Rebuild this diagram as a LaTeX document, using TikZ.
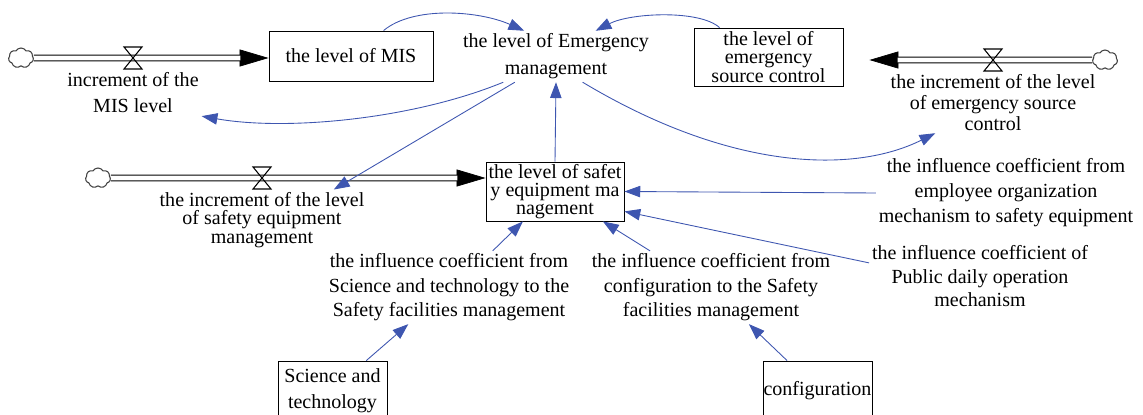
\documentclass[tikz,border=0pt]{standalone}
\usepackage{fontspec}
\setmainfont{Liberation Serif}
\usetikzlibrary{arrows.meta,shapes.symbols}
\definecolor{linkblue}{RGB}{62,86,176}
\tikzstyle{stock}=[draw,rectangle,line width=0.5pt,inner sep=0pt,align=center]
\tikzstyle{aux}=[align=center,inner sep=1.5pt]
\tikzstyle{source}=[draw=black!75,cloud,cloud puffs=7,cloud puff arc=120,aspect=1.2,minimum width=0.5cm,minimum height=0.4cm,inner sep=0pt,line width=0.6pt]
\tikzstyle{pipe}=[draw,double=white,double distance=2.6pt,line width=0.6pt]
\tikzstyle{flowhead}=[draw,line width=0.4pt,-{Triangle[length=16.5pt,width=9.7pt]}]
\tikzstyle{link}=[draw,linkblue,line width=0.5pt,-{Triangle[length=9pt,width=6.5pt]}]
\tikzset{lead/.style={font=\fontsize{11.4}{#1}\selectfont},lead/.default=13.9pt,
  valve/.pic={\draw[line width=0.6pt] (-9,-11) -- (9,-11) -- (-9,11) -- (9,11) -- cycle;}}

\begin{document}
\begin{tikzpicture}[x=0.02cm,y=-0.02cm,lead]
    \useasboundingbox (0,0) rectangle (1143,415);
    % Stocks
    \node[stock,minimum width=2.98cm,minimum height=1.16cm,lead=10.6pt] (esc) at (768.5,57) {the level of\\emergency\\source control};
    \node[stock,minimum width=3.28cm,minimum height=1cm] (mis) at (351,56) {the level of MIS};
    \node[stock,minimum width=2.76cm,minimum height=1.18cm,lead=10.4pt] (sem) at (555,191.5) {the level of safet\\y equipment ma\\nagement};
    \node[stock,minimum width=2.18cm,minimum height=1.2cm,lead=14.8pt] (sbox) at (332.5,391) {Science and\\technology};
    \node[stock,minimum width=2.18cm,minimum height=1.2cm] (cbox) at (817.5,391) {configuration};
    % Auxiliaries and flow rates
    \node[aux,lead=15.4pt] (emg) at (556,56.5) {the level of Emergency\\management};
    \node[aux,lead=14.8pt] (lbl1) at (133,93) {increment of the\\MIS level};
    \node[aux,lead=10.4pt] (lbl2) at (262,220) {the increment of the level\\of safety equipment\\management};
    \node[aux,lead=11.7pt] (lbl3) at (993,102.5) {the increment of the level\\of emergency source\\control};
    \node[aux,lead=14.2pt] (emp) at (1006,193) {the influence coefficient from\\employee organization\\mechanism to safety equipment};
    \node[aux,lead=13.4pt] (pub) at (980,276.5) {the influence coefficient of\\Public daily operation\\mechanism};
    \node[aux] (sci) at (449,287.5) {the influence coefficient from\\Science and technology to the\\Safety facilities management};
    \node[aux] (cfg) at (711,287.5) {the influence coefficient from\\configuration to the Safety\\facilities management};
    % Clouds, pipes and valves
    \foreach \pos/\name in {{(21,58)/c1}, {(98,178)/c2}, {(1105,60)/c3}}
        \node[source] (\name) at \pos {};
    \foreach \src/\dst/\gap/\vx in {c1/mis.west/0pt/133, c2/sem.west/0pt/262, c3/esc.east/14.8pt/993} {
        \path[flowhead,shorten >=\gap] (\src) -- (\src -| \dst);
        \path[pipe,shorten >=\gap+16pt] (\src) -- (\src -| \dst);
        \path (\src) ++(0,0) coordinate (v);
        \pic at (v -| \vx,0) {valve};
    }
    % Straight links
    \foreach \source/\dest in {sem.north/emg.south, emp.west/sem.east, pub.173/sem.344, sci.40/sem.223, cfg.149/sem.328, sbox.42/sci.222, cbox.135/cfg.316, emg.212/lbl2.23}
        \path[link] (\source) -- (\dest);
    % Curved links
    \path[link] (mis.38) .. controls +(30,-25) and +(-45,-20) .. (emg.141);
    \path[link] (esc.149) .. controls +(-20,-18) and +(35,-18) .. (emg.33);
    \path[link] (emg.206) .. controls +(-90,37) and +(85,15) .. (lbl1.south east);
    \path[link] (emg.316) .. controls +(150,90) and +(-80,40) .. (lbl3.208);
\end{tikzpicture}
\end{document}
